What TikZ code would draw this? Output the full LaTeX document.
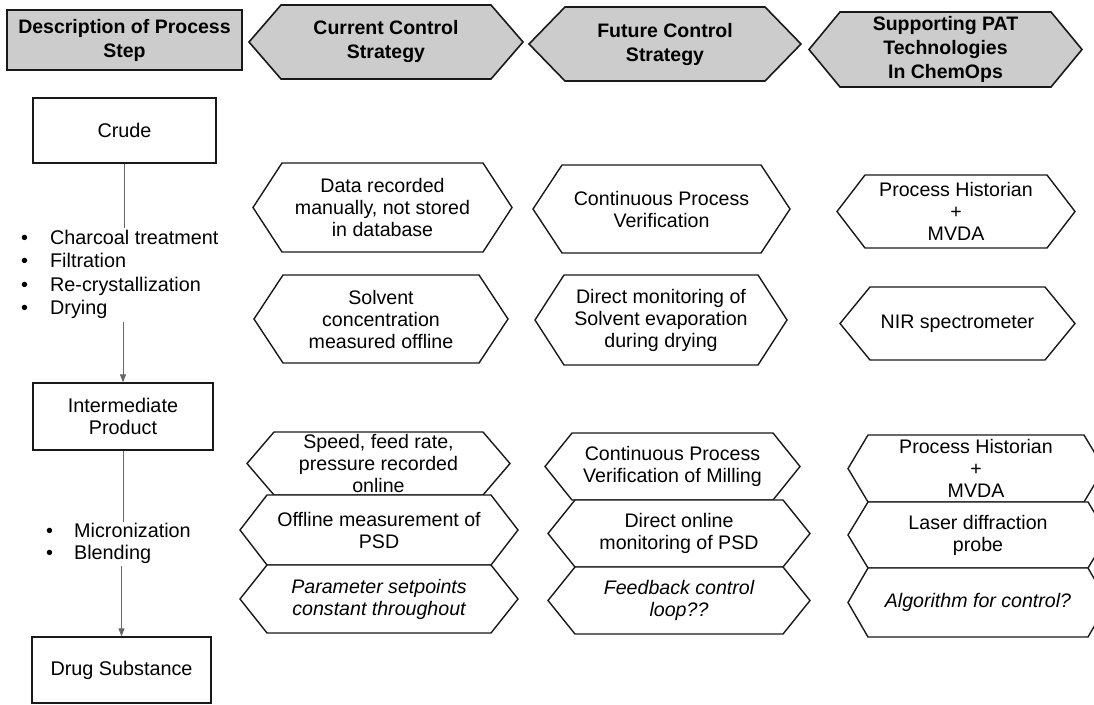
\documentclass[tikz,border=0pt]{standalone}
\usepackage{fontspec}
\setmainfont{Liberation Sans}
\usetikzlibrary{arrows.meta}
% #1 name, #2 left, #3 right, #4 top, #5 bottom, #6 inset, #7 path style, #8 node style, #9 text
\newcommand{\hexa}[9]{%
  \path[#7] (#2,{(#4+#5)/2}) -- (#2+#6,#4) -- (#3-#6,#4) -- (#3,{(#4+#5)/2})
    -- (#3-#6,#5) -- (#2+#6,#5) -- cycle;
  \node[#8] (#1) at ({(#2+#3)/2},{(#4+#5)/2}) {#9};
}
\begin{document}
\begin{tikzpicture}[x=1pt,y=-1pt,
  hexbox/.style={draw=black!90, line width=1.4pt, fill=white},
  headbox/.style={draw=black!90, line width=1.6pt, fill=black!20},
  hextext/.style={align=center, inner sep=0pt, font=\fontsize{19.6}{22}\selectfont},
  hexital/.style={align=center, inner sep=0pt, font=\fontsize{19.6}{22}\selectfont\itshape},
  headtext/.style={align=center, inner sep=0pt, font=\fontsize{19.5}{24}\selectfont\bfseries},
  stepbox/.style={draw=black!90, line width=1.4pt, fill=white, inner sep=0pt, align=center,
    font=\fontsize{19.8}{22}\selectfont},
  flow/.style={draw=black!60, line width=0.9pt},
  flowarrow/.style={flow, -{Triangle[length=8pt,width=6pt]}},
  ]
\useasboundingbox (0,0) rectangle (1094,704);
\fill[white] (0,0) rectangle (1094,704);
\clip (0,0) rectangle (1094,704);

% header row
\node[headbox, headtext, minimum width=235, minimum height=60] (hdesc) at (124.5,40) {Description of Process\\Step};
\hexa{hcur}{249}{523}{5}{79}{32}{headbox}{headtext}{Current Control\\Strategy}
\hexa{hfut}{529}{801}{7}{81}{36}{headbox}{headtext}{Future Control\\Strategy}
\hexa{hsup}{809}{1082}{12}{87}{31}{headbox}{headtext}{Supporting PAT\\Technologies\\In ChemOps}

% process steps
\node[stepbox, minimum width=183, minimum height=65] (crude) at (124.5,130.5) {Crude};
\node[stepbox, minimum width=180, minimum height=67] (inter) at (123,416.5) {Intermediate\\Product};
\node[stepbox, minimum width=179, minimum height=66] (drug) at (121.5,670) {Drug Substance};

\node[anchor=north west, inner sep=0pt, font=\fontsize{19.8}{23.3}\selectfont] (list1) at (21,228)
  {\begin{tabular}{@{}l@{\hspace{22pt}}l@{}}
   \textbullet & Charcoal treatment\\
   \textbullet & Filtration\\
   \textbullet & Re-crystallization\\
   \textbullet & Drying
   \end{tabular}};
\node[anchor=north west, inner sep=0pt, font=\fontsize{19.8}{22}\selectfont] (list2) at (46,522)
  {\begin{tabular}{@{}l@{\hspace{21pt}}l@{}}
   \textbullet & Micronization\\
   \textbullet & Blending
   \end{tabular}};

\draw[flow] (crude.south) -- (crude.south |- list1.north);
\draw[flowarrow] (inter.north |- list1.south) -- (inter.north);
\draw[flow] (inter.south) -- (inter.south |- list2.north);
\draw[flowarrow] (drug.north |- list2.south) -- (drug.north);

% upper group
\hexa{c1}{253}{512}{163}{252}{29}{hexbox}{hextext}{Data recorded\\manually, not stored\\in database}
\hexa{f1}{533}{790}{165}{253}{29}{hexbox}{hextext}{Continuous Process\\Verification}
\hexa{s1}{837}{1075}{175}{248}{28}{hexbox}{hextext}{Process Historian\\+\\MVDA}
\hexa{c2}{254}{508}{275}{363}{29}{hexbox}{hextext}{Solvent\\concentration\\measured offline}
\hexa{f2}{535}{787}{275}{365}{29}{hexbox}{hextext}{Direct monitoring of\\Solvent evaporation\\during drying}
\hexa{s2}{840}{1075}{287}{360}{30}{hexbox}{hextext}{NIR spectrometer}

% lower group
\hexa{c3}{247}{510}{432}{495}{27}{hexbox}{hextext}{Speed, feed rate,\\pressure recorded\\online}
\hexa{c4}{240}{518}{495}{565}{27}{hexbox}{hextext}{Offline measurement of\\PSD}
\hexa{c5}{240}{518}{565}{633}{27}{hexbox}{hexital}{Parameter setpoints\\constant throughout}
\hexa{f3}{545}{800}{433}{500}{27}{hexbox}{hextext}{Continuous Process\\Verification of Milling}
\hexa{f4}{548}{810}{500}{567}{27}{hexbox}{hextext}{Direct online\\monitoring of PSD}
\hexa{f5}{548}{810}{567}{634}{27}{hexbox}{hexital}{Feedback control\\loop??}
\hexa{s3}{848}{1104}{435}{502}{20}{hexbox}{hextext}{Process Historian\\+\\MVDA}
\hexa{s4}{848}{1108}{502}{568}{20}{hexbox}{hextext}{Laser diffraction\\probe}
\hexa{s5}{848}{1108}{568}{637}{20}{hexbox}{hexital}{Algorithm for control?}
\end{tikzpicture}
\end{document}
